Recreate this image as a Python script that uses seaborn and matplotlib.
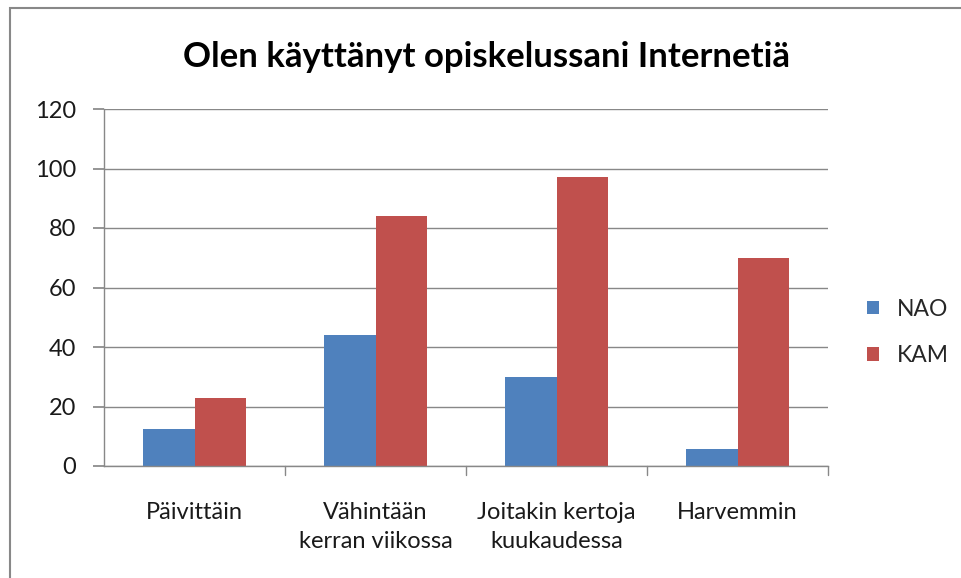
import pandas as pd
import matplotlib.pyplot as plt
import seaborn as sns
from matplotlib.patches import Rectangle

# Data
kategoriat = ['Päivittäin', 'Vähintään\nkerran viikossa', 'Joitakin kertoja\nkuukaudessa', 'Harvemmin']
nao = [12.5, 44, 30, 5.6]
kam = [23, 84, 97, 70]
sarjat = ['NAO', 'KAM']
varit = ['#4F81BD', '#C0504D']

df = pd.DataFrame({
    'kategoria': kategoriat * 2,
    'sarja': ['NAO'] * 4 + ['KAM'] * 4,
    'arvo': nao + kam,
})

sns.set_theme(style="white")
plt.rcParams['font.family'] = ['Lato', 'DejaVu Sans']

fig = plt.figure(figsize=(9.62, 5.78), dpi=100)
ax = fig.add_axes([104 / 962, 1 - 466 / 578, (828 - 104) / 962, (466 - 109) / 578])

# Ulompi kehys
fig.patches.append(Rectangle((10 / 962, -0.1), 1.1, 1 - 8 / 578 + 0.1,
                             transform=fig.transFigure, fill=False,
                             edgecolor='#888888', linewidth=1.5))

sns.barplot(data=df, x='kategoria', y='arvo', hue='sarja', hue_order=sarjat,
            palette=varit, width=0.57, saturation=1, linewidth=0, ax=ax, legend=True)

ax.set_ylim(0, 120)
ax.set_yticks(range(0, 121, 20))
ax.set_xlim(-0.5, 3.5)
ax.yaxis.grid(True, color='#888888', linewidth=1)
ax.set_axisbelow(True)
for s in ['top', 'right']:
    ax.spines[s].set_visible(False)
for s in ['left', 'bottom']:
    ax.spines[s].set_color('#888888')
    ax.spines[s].set_linewidth(1)

ax.tick_params(axis='y', left=True, length=8, color='#888888', labelsize=17, pad=12, labelcolor='#1a1a1a')
ax.set_xticks([0, 1, 2, 3])
ax.set_xticklabels(kategoriat, fontsize=17, color='#1a1a1a', linespacing=1.45)
ax.tick_params(axis='x', bottom=False, pad=20)
# tikkiviivat kategorioiden väleihin
for xv in [0.5, 1.5, 2.5, 3.5]:
    ax.plot([xv, xv], [0, -3], color='#888888', linewidth=1, clip_on=False)

ax.set_xlabel('')
ax.set_ylabel('')

fig.text(487 / 962, 1 - 57 / 578, 'Olen käyttänyt opiskelussani Internetiä',
         ha='center', va='center', fontsize=25, fontweight='bold', color='black')

leg = ax.legend(loc='center left', bbox_to_anchor=(1.025, 0.375), frameon=False,
                fontsize=16.5, handlelength=0.55, handleheight=0.55, labelspacing=1.1,
                handletextpad=0.75)

fig.savefig('out.png', dpi=100)
